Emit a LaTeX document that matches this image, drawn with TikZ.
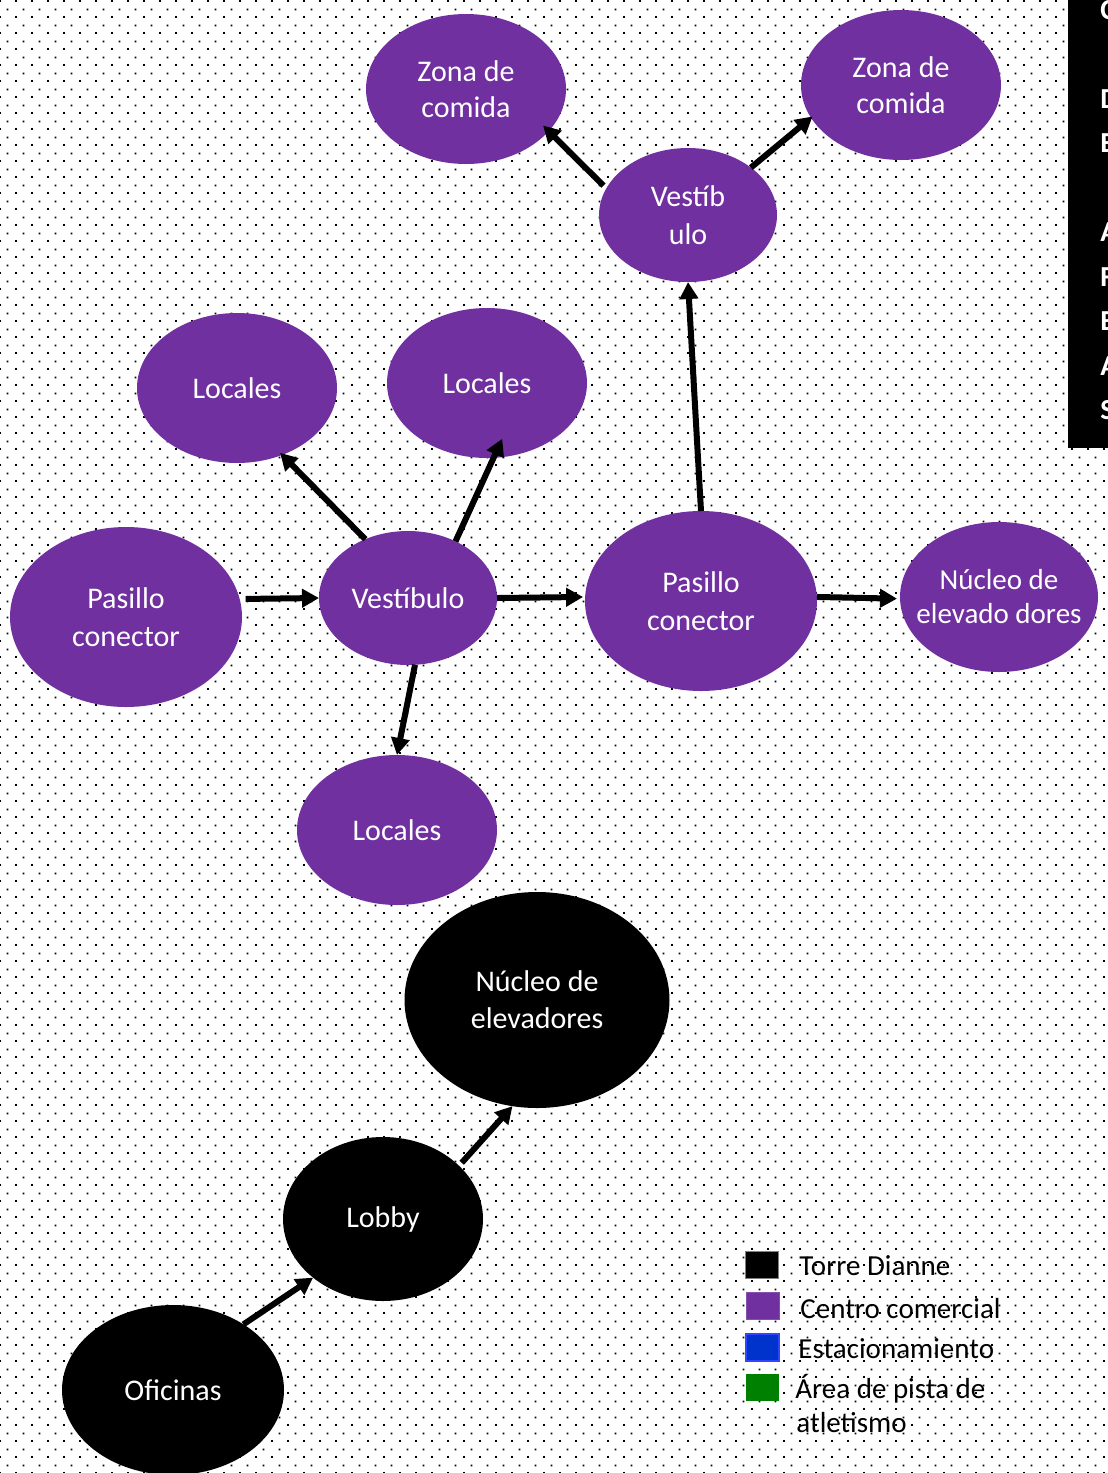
\documentclass[tikz,border=0pt]{standalone}
\usepackage{fontspec}
\setmainfont{Carlito}
\usetikzlibrary{shapes.geometric,arrows.meta,patterns}

\definecolor{mall}{HTML}{7030A0}
\definecolor{park}{HTML}{0033CC}
\definecolor{parkedge}{HTML}{3344FF}
\definecolor{track}{HTML}{008000}

% staggered grid of small square dots (one tile = two dots)
\pgfdeclarepatternformonly{gridDots}{\pgfqpoint{0pt}{0pt}}{\pgfqpoint{8pt}{8pt}}{\pgfqpoint{8pt}{8pt}}{%
  \pgfpathrectangle{\pgfqpoint{0pt}{0pt}}{\pgfqpoint{1pt}{1pt}}%
  \pgfpathrectangle{\pgfqpoint{4pt}{4pt}}{\pgfqpoint{1pt}{1pt}}%
  \pgfusepath{fill}}

\begin{document}
\begin{tikzpicture}[x=0.5pt,y=-0.5pt,
  blob/.style={ellipse, inner sep=0pt, outer sep=0pt},
  mallblob/.style={blob, fill=mall},
  towerblob/.style={blob, fill=black},
  nodetext/.style={text=white, align=center, inner sep=0pt,
    font=\fontsize{15}{19}\selectfont},
  arr/.style={-{Triangle[length=8.5pt,width=9pt]}, line width=3pt, black},
  keybox/.style={minimum width=16.5pt, minimum height=13.5pt, inner sep=0pt},
  keytext/.style={anchor=base west, inner sep=0pt,
    font=\fontsize{14.5}{17}\selectfont},
  sidetext/.style={anchor=base west, inner sep=0pt, text=white,
    font=\bfseries\fontsize{14.5}{17}\selectfont},
]
% background
\fill[white] (0,0) rectangle (1108,1473);
\fill[pattern=gridDots, pattern color=black] (0,0) rectangle (1108,1473);
\useasboundingbox (0,0) rectangle (1108,1473);

% side text box
\fill[black] (1068,0) rectangle (1108,448);
\begin{scope}
\clip (1068,0) rectangle (1108,448);
\foreach \ch/\yb [count=\i] in {C/19, D/108, E/152.5, A/241.5, F/286, E/330.5, A/375, S/419.5}
  \node[sidetext] (side\i) at (1100,\yb) {\ch};
\end{scope}

% shopping centre
\node[mallblob, minimum width=100pt, minimum height=75pt,
  label={[nodetext, font=\fontsize{15}{18}\selectfont]center:Zona de\\comida}] (zonaA) at (466,89) {};
\node[mallblob, minimum width=100pt, minimum height=75pt,
  label={[nodetext, font=\fontsize{15}{18}\selectfont]center:Zona de\\comida}] (zonaB) at (901,85) {};
\node[mallblob, minimum width=89pt, minimum height=67pt,
  label={[nodetext]center:Vestíb\\ulo}] (vesT) at (688,215) {};
\node[mallblob, minimum width=100pt, minimum height=75pt,
  label={[nodetext]center:Locales}] (locA) at (237,388) {};
\node[mallblob, minimum width=100pt, minimum height=75pt,
  label={[nodetext]center:Locales}] (locB) at (487,383) {};
\node[mallblob, minimum width=116pt, minimum height=90pt,
  label={[nodetext]center:Pasillo\\conector}] (pasA) at (126,617) {};
\node[mallblob, minimum width=89pt, minimum height=67pt,
  label={[nodetext]center:Vestíbulo}] (ves) at (408,598) {};
\node[mallblob, minimum width=116pt, minimum height=90pt,
  label={[nodetext]center:Pasillo\\conector}] (pasB) at (701,601) {};
\node[mallblob, minimum width=99pt, minimum height=75pt,
  label={[nodetext, font=\fontsize{14.5}{17}\selectfont]center:Núcleo de\\elevado dores}] (nuc) at (999,597) {};
\node[mallblob, minimum width=100pt, minimum height=75pt,
  label={[nodetext]center:Locales}] (locC) at (397,830) {};

% tower
\node[towerblob, minimum width=132.5pt, minimum height=108pt,
  label={[nodetext, font=\fontsize{15}{18.5}\selectfont]center:Núcleo de\\elevadores}] (nucK) at (537,1000) {};
\node[towerblob, minimum width=100pt, minimum height=82pt,
  label={[nodetext]center:Lobby}] (lobby) at (383,1219) {};
\node[towerblob, minimum width=111pt, minimum height=85pt,
  label={[nodetext]center:Oficinas}] (ofi) at (173,1390) {};

% connections
\draw[arr, shorten <=3pt] (pasA.9) -- (ves.180);
\draw[arr, shorten >=1pt] (ves.0) -- (pasB.178);
\draw[arr, shorten >=1.5pt] (pasB.2) -- (nuc.181);
\draw[arr, shorten >=-1.5pt] (ves.126) -- (locA.-56);
\draw[arr, shorten >=-10.5pt] (ves.50) -- (locB.-85);
\draw[arr] (ves.-84) -- (locC.90);
\draw[arr] (pasB.90) -- (vesT.-90);
\draw[arr, shorten <=2pt, shorten >=-4pt] (vesT.162) -- (zonaA.-27);
\draw[arr, shorten >=-1pt] (vesT.37) -- (zonaB.200);
\draw[arr, shorten <=2pt] (lobby.35) -- (nucK.257);
\draw[arr] (ofi.43) -- (lobby.220);

% legend
\node[keybox, fill=black, draw=gray, line width=0.5pt] (key1) at (761.5,1264.5) {};
\node[keybox, fill=mall, draw=mall!85!white, line width=0.5pt] (key2) at (762.5,1305.5) {};
\node[keybox, fill=park, draw=parkedge, line width=1pt] (key3) at (762.5,1347) {};
\node[keybox, fill=track] (key4) at (762.5,1387.5) {};
\node[keytext] (lab1) at (799,1275) {Torre Dianne};
\node[keytext] (lab2) at (800,1318) {Centro comercial};
\node[keytext] (lab3) at (798,1358) {Estacionamiento};
\node[keytext] (lab4) at (795,1398) {Área de pista de};
\node[keytext] (lab5) at (796,1432) {atletismo};
\end{tikzpicture}
\end{document}
